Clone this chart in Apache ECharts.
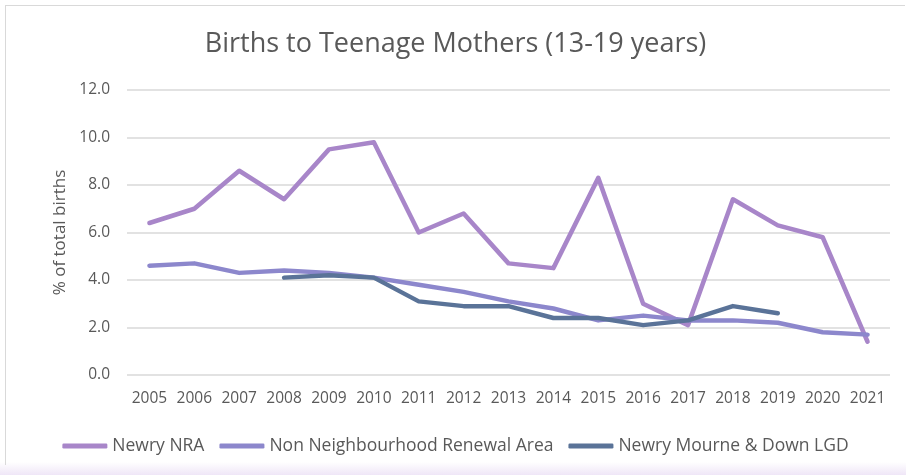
<!DOCTYPE html>
<html>
<head>
<meta charset="utf-8">
<script src="https://cdn.jsdelivr.net/npm/echarts@6/dist/echarts.min.js"></script>
<style>
  html, body { margin: 0; padding: 0; background: #fff; }
  #wrap { position: absolute; left: 0; top: 0; width: 906px; height: 475px;
          background: linear-gradient(to bottom, #fff 0, #fff 462px, #efe6f7 475px); }
  #chartBox { position: absolute; left: 5px; top: 5px; width: 900px; height: 460px;
              border-left: 1px solid #d9d9d9; border-top: 1px solid #d9d9d9; box-sizing: border-box; }
</style>
</head>
<body>
<div id="wrap"><div id="chartBox"></div></div>
<script>
var years = ['2005', '2006', '2007', '2008', '2009', '2010', '2011', '2012', '2013',
             '2014', '2015', '2016', '2017', '2018', '2019', '2020', '2021'];
var newryNRA = [6.4, 7.0, 8.6, 7.4, 9.5, 9.8, 6.0, 6.8, 4.7, 4.5, 8.3, 3.0, 2.1, 7.4, 6.3, 5.8, 1.4];
var nonNRA = [4.6, 4.7, 4.3, 4.4, 4.3, 4.1, 3.8, 3.5, 3.1, 2.8, 2.3, 2.5, 2.3, 2.3, 2.2, 1.8, 1.7];
var newryLGD = [null, null, null, 4.1, 4.2, 4.1, 3.1, 2.9, 2.9, 2.4, 2.4, 2.1, 2.3, 2.9, 2.6, null, null];

var dom = document.getElementById('chartBox');
var myChart = echarts.init(dom);
var fontFam = '"Open Sans", "Noto Sans", sans-serif';

function lineSeries(name, data, color) {
    return {
        name: name,
        type: 'line',
        data: data,
        symbol: 'none',
        lineStyle: {width: 4.5, color: color, cap: 'round', join: 'round'},
        itemStyle: {color: color},
        connectNulls: false
    };
}

var option = {
    animation: false,
    title: {
        text: 'Births to Teenage Mothers (13-19 years)',
        left: 'center',
        top: 20,
        textStyle: {fontFamily: fontFam, fontSize: 27, fontWeight: 'normal', color: '#595959'}
    },
    legend: {
        bottom: 5,
        left: 'center',
        itemWidth: 45,
        itemHeight: 5,
        itemGap: 15,
        icon: 'roundRect',
        textStyle: {fontFamily: fontFam, fontSize: 17.5, color: '#595959'}
    },
    grid: {left: 121, right: 15, top: 84, bottom: 90},
    xAxis: {
        type: 'category',
        data: years,
        boundaryGap: true,
        axisLine: {show: false},
        axisTick: {show: false},
        axisLabel: {fontFamily: fontFam, fontSize: 15.5, color: '#595959', margin: 16, interval: 0}
    },
    yAxis: {
        type: 'value',
        min: 0,
        max: 12,
        interval: 2,
        name: '% of total births',
        nameLocation: 'middle',
        nameGap: 58,
        nameTextStyle: {fontFamily: fontFam, fontSize: 17, color: '#595959'},
        axisLabel: {fontFamily: fontFam, fontSize: 15.5, color: '#595959', margin: 17,
                    formatter: function (v) { return v.toFixed(1); }},
        splitLine: {lineStyle: {color: '#d9d9d9', width: 1.5}}
    },
    series: [
        lineSeries('Newry NRA', newryNRA, '#a886c9'),
        lineSeries('Non Neighbourhood Renewal Area', nonNRA, '#8c87cc'),
        lineSeries('Newry Mourne & Down LGD', newryLGD, '#5a7398')
    ]
};

myChart.setOption(option);
</script>
</body>
</html>
